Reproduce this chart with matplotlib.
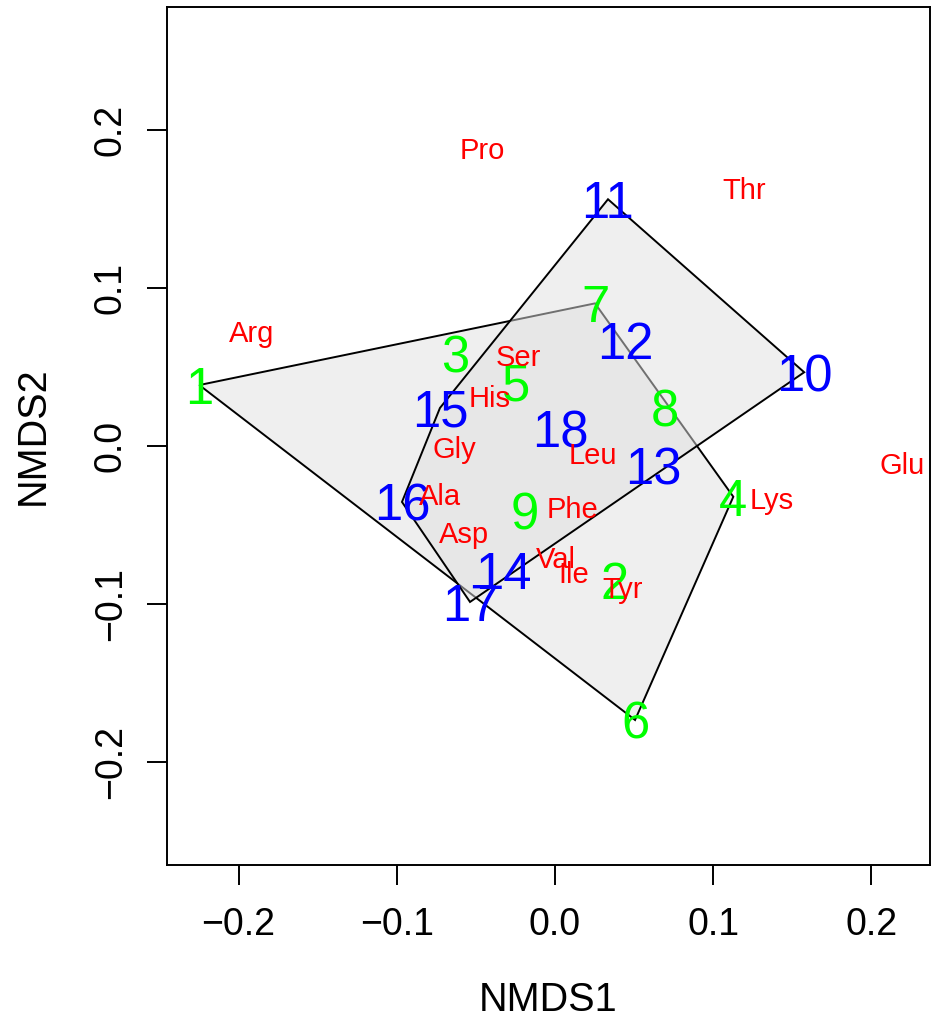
import matplotlib
matplotlib.use("Agg")
import matplotlib.pyplot as plt
import numpy as np

plt.rcParams['font.family'] = ['Liberation Sans', 'DejaVu Sans']

# ---- data ----
site_labels = [str(i) for i in range(1, 19)]
site_x = [-0.2248, 0.0379, -0.0632, 0.1127, -0.0248, 0.0506, 0.0253, 0.0692, -0.0193,
          0.1575, 0.0335, 0.0442, 0.0619, -0.0329, -0.0727, -0.0967, -0.0537, 0.0032]
site_y = [0.0384, -0.0850, 0.0584, -0.0323, 0.0405, -0.1736, 0.0901, 0.0245, -0.0407,
          0.0465, 0.1560, 0.0669, -0.0128, -0.0787, 0.0239, -0.0356, -0.0989, 0.0110]
site_group = ['A'] * 9 + ['B'] * 9
group_colors = {'A': '#00FF00', 'B': '#0000FF'}

species = ['Pro', 'Thr', 'Arg', 'Ser', 'His', 'Gly', 'Leu', 'Glu', 'Lys',
           'Ala', 'Phe', 'Asp', 'Val', 'Ile', 'Tyr']
species_x = [-0.0458, 0.1194, -0.1917, -0.0234, -0.0411, -0.0638, 0.0237, 0.2196, 0.1369,
             -0.0727, 0.0110, -0.0575, 0.0005, 0.0119, 0.0427]
species_y = [0.1882, 0.1634, 0.0726, 0.0574, 0.0313, -0.0006, -0.0048, -0.0110, -0.0328,
             -0.0304, -0.0386, -0.0544, -0.0703, -0.0797, -0.0897]

xticks = [-0.2, -0.1, 0.0, 0.1, 0.2]
yticks = [-0.2, -0.1, 0.0, 0.1, 0.2]
xlim = (-0.2452, 0.2370)
ylim = (-0.2654, 0.2777)


def convex_hull(pts):
    pts = sorted(set(pts))
    if len(pts) <= 2:
        return pts
    def cross(o, a, b):
        return (a[0] - o[0]) * (b[1] - o[1]) - (a[1] - o[1]) * (b[0] - o[0])
    lower = []
    for p in pts:
        while len(lower) >= 2 and cross(lower[-2], lower[-1], p) <= 0:
            lower.pop()
        lower.append(p)
    upper = []
    for p in reversed(pts):
        while len(upper) >= 2 and cross(upper[-2], upper[-1], p) <= 0:
            upper.pop()
        upper.append(p)
    return lower[:-1] + upper[:-1]


W, H = 931, 1018
fig = plt.figure(figsize=(W / 100, H / 100), dpi=100)
ax = fig.add_axes([167 / W, (H - 865) / H, (930 - 167) / W, (865 - 7) / H])

# hulls
for g in ['A', 'B']:
    pts = [(x, y) for x, y, gg in zip(site_x, site_y, site_group) if gg == g]
    hull = convex_hull(pts)
    ax.fill([p[0] for p in hull], [p[1] for p in hull],
            facecolor=(0.88, 0.88, 0.88, 0.5), edgecolor='black', linewidth=1.4, zorder=1)

# sites
for lab, x, y, g in zip(site_labels, site_x, site_y, site_group):
    ax.text(x, y, lab, color=group_colors[g], fontsize=36.5, ha='center',
            va='center_baseline', zorder=3)

# species
for lab, x, y in zip(species, species_x, species_y):
    ax.text(x, y, lab, color='#FF0000', fontsize=21, ha='center',
            va='center_baseline', zorder=4)

ax.set_xlim(*xlim)
ax.set_ylim(*ylim)
ax.set_xticks(xticks)
ax.set_yticks(yticks)
ax.set_xticklabels(['%.1f' % v if v != 0 else '0.0' for v in xticks])
ax.set_yticklabels(['%.1f' % v if v != 0 else '0.0' for v in yticks])
for lbl in ax.get_xticklabels() + ax.get_yticklabels():
    lbl.set_text(lbl.get_text().replace('-', '\u2212'))
ax.set_xticklabels([t.replace('-', '\u2212') for t in ['%.1f' % v for v in xticks]])
ax.set_yticklabels([t.replace('-', '\u2212') for t in ['%.1f' % v for v in yticks]])

ax.tick_params(axis='both', direction='out', length=14.4, width=1.4, labelsize=27)
ax.tick_params(axis='x', pad=15.5)
ax.tick_params(axis='y', pad=13, labelrotation=90)
for lbl in ax.get_yticklabels():
    lbl.set_va('center')
for s in ax.spines.values():
    s.set_linewidth(1.4)

fig.text(548.5 / W, 1 - 996 / H, 'NMDS1', fontsize=28.5, ha='center', va='center_baseline')
fig.text(29 / W, 1 - 436 / H, 'NMDS2', fontsize=28.5, ha='center', va='center_baseline',
         rotation=90, rotation_mode='anchor')

fig.savefig('out.png', dpi=100)
